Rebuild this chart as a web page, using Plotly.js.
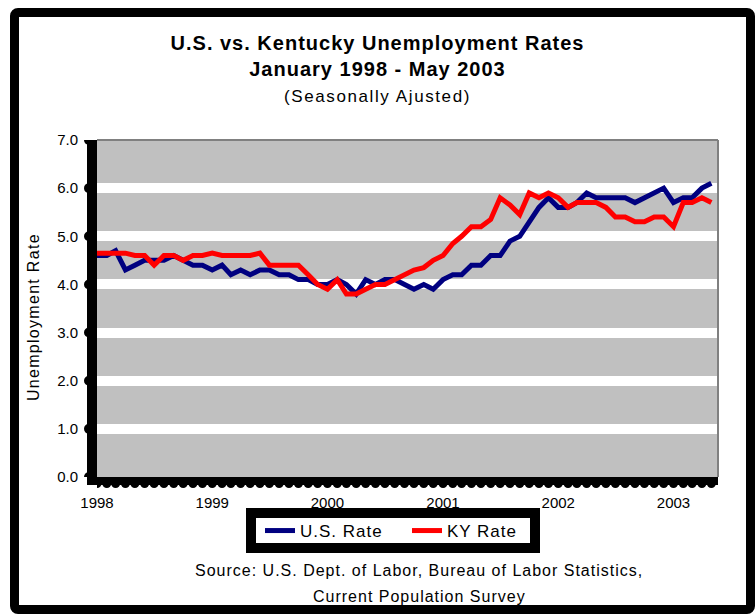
<!DOCTYPE html>
<html><head><meta charset="utf-8">
<script src="https://cdn.plot.ly/plotly-3.0.1.min.js"></script>
<style>
html,body{margin:0;padding:0;background:#fff;}
#wrap{position:relative;width:755px;height:614px;overflow:hidden;}
#chart{position:absolute;left:0;top:0;width:755px;height:614px;}
#frame{position:absolute;left:10px;top:8px;width:727px;height:588px;border:9px solid #000;border-radius:8px;pointer-events:none;}
</style></head>
<body><div id="wrap"><div id="chart"></div><div id="frame"></div></div>
<script>
// ---- data (monthly, Jan 1998 - May 2003) ----
const startYear = 1998;
const yearLabels = ['1998','1999','2000','2001','2002','2003'];
const usRate = [
  4.6,4.6,4.7,4.3,4.4,4.5,4.5,4.5,4.6,4.5,4.4,4.4,   // 1998
  4.3,4.4,4.2,4.3,4.2,4.3,4.3,4.2,4.2,4.1,4.1,4.0,   // 1999
  4.0,4.1,4.0,3.8,4.1,4.0,4.1,4.1,4.0,3.9,4.0,3.9,   // 2000
  4.1,4.2,4.2,4.4,4.4,4.6,4.6,4.9,5.0,5.3,5.6,5.8,   // 2001
  5.6,5.6,5.7,5.9,5.8,5.8,5.8,5.8,5.7,5.8,5.9,6.0,   // 2002
  5.7,5.8,5.8,6.0,6.1                                // 2003
];
const kyRate = [
  4.65,4.65,4.65,4.65,4.6,4.6,4.4,4.6,4.6,4.5,4.6,4.6,   // 1998
  4.65,4.6,4.6,4.6,4.6,4.65,4.4,4.4,4.4,4.4,4.2,4.0,     // 1999
  3.9,4.1,3.8,3.8,3.9,4.0,4.0,4.1,4.2,4.3,4.35,4.5,      // 2000
  4.6,4.85,5.0,5.2,5.2,5.35,5.8,5.65,5.45,5.9,5.8,5.9,   // 2001
  5.8,5.6,5.7,5.7,5.7,5.6,5.4,5.4,5.3,5.3,5.4,5.4,       // 2002
  5.2,5.7,5.7,5.8,5.7                                    // 2003
];
const seriesNames = ['U.S. Rate','KY Rate'];
const seriesColors = ['#000080','#ff0000'];

// month dates built from the start year and series length
const dates = usRate.map((_, i) => {
  const y = startYear + Math.floor(i / 12);
  const m = (i % 12) + 1;
  return y + '-' + String(m).padStart(2, '0') + '-01';
});
const yearTicks = yearLabels.map(y => y + '-01-01');
const spaced = t => "<span style='letter-spacing:1px'>" + t + "</span>";

const traces = [
  {x: dates, y: usRate, name: spaced(seriesNames[0]), type: 'scatter', mode: 'lines',
   line: {color: seriesColors[0], width: 5}},
  {x: dates, y: kyRate, name: spaced(seriesNames[1]), type: 'scatter', mode: 'lines',
   line: {color: seriesColors[1], width: 5}}
];

// decorative round tick dots along the axes
const shapes = [];
for (let v = 0; v <= 7; v++) {
  shapes.push({type: 'circle', layer: 'above', xref: 'paper', xsizemode: 'pixel', xanchor: 0,
    x0: -13, x1: -3, yref: 'y', ysizemode: 'pixel', yanchor: v, y0: -5, y1: 5,
    fillcolor: '#000', line: {width: 0}});
}
dates.forEach(d => {
  shapes.push({type: 'circle', layer: 'above', xref: 'x', xsizemode: 'pixel', xanchor: d,
    x0: -4.5, x1: 4.5, yref: 'paper', ysizemode: 'pixel', yanchor: 0, y0: -11, y1: -2,
    fillcolor: '#000', line: {width: 0}});
});
shapes.push({type: 'line', layer: 'above', xref: 'paper', yref: 'paper', x0: 0, x1: 1, y0: 1, y1: 1,
  line: {color: '#808080', width: 2}});
shapes.push({type: 'line', layer: 'above', xref: 'paper', yref: 'paper', x0: 1, x1: 1, y0: 0, y1: 1,
  line: {color: '#808080', width: 2}});
// legend frame (thick black box)
shapes.push({type: 'rect', layer: 'below', xref: 'paper', yref: 'paper',
  x0: (251 - 97) / 621, x1: (535 - 97) / 621, y0: (477 - 548) / 337, y1: (477 - 513) / 337,
  fillcolor: '#ffffff', line: {color: '#000', width: 10}});

const font = 'Arial, "Liberation Sans", sans-serif';
const layout = {
  width: 755, height: 614,
  margin: {l: 97, r: 37, t: 140, b: 137},
  paper_bgcolor: '#ffffff', plot_bgcolor: '#c0c0c0',
  font: {family: font, color: '#000', size: 15},
  showlegend: true,
  title: {
    text: "<span style='letter-spacing:1px'><b>U.S. vs. Kentucky Unemployment Rates</b></span><br>" +
          "<span style='letter-spacing:1px'><b>January 1998 - May 2003</b></span><br>" +
          "<span style='font-size:17px;letter-spacing:1.6px'>(Seasonally Ajusted)</span>",
    font: {family: font, size: 20, color: '#000'},
    x: 0.5, xref: 'container', xanchor: 'center',
    y: 0.918, yref: 'container', yanchor: 'top'
  },
  xaxis: {
    type: 'date',
    range: ['1998-01-01', '2003-05-22'],
    tickvals: yearTicks, ticktext: yearLabels,
    ticks: '', showgrid: false, zeroline: false,
    showline: true, linecolor: '#000', linewidth: 8,
    tickfont: {size: 15}, ticklabelstandoff: 5,
    fixedrange: true
  },
  yaxis: {
    range: [0, 7], dtick: 1, tickformat: '.1f',
    ticks: '', showgrid: true, gridcolor: '#ffffff', gridwidth: 10,
    zeroline: false, showline: true, linecolor: '#000', linewidth: 10,
    tickfont: {size: 15}, ticklabelstandoff: 6,
    title: {text: "<span style='letter-spacing:1.3px'>Unemployment Rate&nbsp;&nbsp;&nbsp;</span>", font: {size: 16}, standoff: 18},
    fixedrange: true
  },
  legend: {
    orientation: 'h', x: (260 - 97) / 621, xanchor: 'left', y: (477 - 531) / 337, yanchor: 'middle',
    bgcolor: 'rgba(0,0,0,0)', borderwidth: 0,
    font: {size: 17}, itemwidth: 30, tracegroupgap: 0,
    entrywidth: 102, entrywidthmode: 'pixels'
  },
  shapes: shapes,
  annotations: [
    {text: "<span style='letter-spacing:1px'>Source: U.S. Dept. of Labor, Bureau of Labor Statistics,</span>", showarrow: false,
     xref: 'paper', yref: 'paper', x: (419 - 97) / 621, y: (477 - 570) / 337, xanchor: 'center', yanchor: 'middle',
     font: {size: 16}},
    {text: "<span style='letter-spacing:1px'>Current Population Survey</span>", showarrow: false,
     xref: 'paper', yref: 'paper', x: (419 - 97) / 621, y: (477 - 596) / 337, xanchor: 'center', yanchor: 'middle',
     font: {size: 16}}
  ]
};

Plotly.newPlot('chart', traces, layout, {displayModeBar: false, staticPlot: true});
</script></body></html>
